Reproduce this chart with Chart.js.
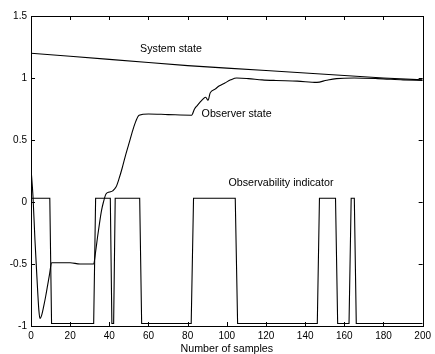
<!DOCTYPE html>
<html>
<head>
<meta charset="utf-8">
<script src="https://cdn.jsdelivr.net/npm/chart.js@4.4.1/dist/chart.umd.min.js"></script>
<style>
html, body { margin: 0; padding: 0; background: #fff; }
</style>
</head>
<body>
<canvas id="chart" width="435" height="354"></canvas>
<script>
// system state (slow decay)
var sysX = [0, 20, 40, 60, 80, 100, 120, 140, 160, 180, 200];
var sysY = [1.20, 1.175, 1.15, 1.125, 1.10, 1.08, 1.06, 1.04, 1.02, 1.00, 0.985];

// observer state
var obsX = [0, 1, 2, 3, 4, 4.6, 5.5, 6.5, 7.5, 8.5, 9.5, 10.5, 15, 20, 25, 32,
            33, 34, 35, 36, 37, 38.3, 40, 41.7, 43.4, 45, 46.5, 48, 50, 52, 53.5, 55.2,
            60, 70, 82, 83.5, 85, 87.2, 89.2, 90.4, 91.5, 94, 96, 99, 102, 105,
            111, 118, 125, 136, 146, 151, 156, 165, 177, 190, 200];
var obsY = [0.27, 0.05, -0.30, -0.60, -0.87, -0.94, -0.91, -0.84, -0.76, -0.67, -0.58, -0.49, -0.49, -0.49, -0.50, -0.50,
            -0.40, -0.28, -0.17, -0.07, 0.0, 0.065, 0.08, 0.09, 0.12, 0.19, 0.27, 0.36, 0.47, 0.58, 0.65, 0.70,
            0.71, 0.705, 0.70, 0.75, 0.78, 0.82, 0.845, 0.82, 0.88, 0.91, 0.935, 0.96, 0.985, 1.0,
            0.995, 0.985, 0.98, 0.975, 0.965, 0.982, 0.995, 1.0, 0.995, 0.985, 0.98];

// observability indicator (on/off)
var indX = [0, 9.6, 10.5, 32, 33, 40.5, 41.3, 42.2, 43, 55.5, 56.5, 81.8, 83, 104.3, 105.5,
            146.2, 147.3, 155.5, 156.6, 162.4, 163.5, 165.1, 166.1, 200];
var indY = [0.03, 0.03, -0.98, -0.98, 0.03, 0.03, -0.98, -0.98, 0.03, 0.03, -0.98, -0.98, 0.03, 0.03, -0.98,
            -0.98, 0.03, 0.03, -0.98, -0.98, 0.03, 0.03, -0.98, -0.98];

var xTicks = [0, 20, 40, 60, 80, 100, 120, 140, 160, 180, 200];
var yTicks = [-1, -0.5, 0, 0.5, 1, 1.5];

var labels = [
    { text: 'System state', x: 55.7, y: 1.234 },
    { text: 'Observer state', x: 87.1, y: 0.71 },
    { text: 'Observability indicator', x: 100.8, y: 0.153 }
];
var xTitle = 'Number of samples';

function pts(xs, ys) { return xs.map((x, i) => ({ x: x, y: ys[i] })); }

var FONT = '"Liberation Sans", Arial, Helvetica, sans-serif';

var boxPlugin = {
    id: 'box',
    afterDraw: function(chart) {
        var c = chart.ctx, a = chart.chartArea;
        var sx = chart.scales.x, sy = chart.scales.y;
        c.save();
        c.strokeStyle = '#000';
        c.lineWidth = 1;
        c.strokeRect(Math.round(a.left) + 0.5, Math.round(a.top) + 0.5,
                     Math.round(a.right - a.left), Math.round(a.bottom - a.top));
        // inward ticks on all sides
        c.beginPath();
        xTicks.forEach(function(v) {
            var px = Math.round(sx.getPixelForValue(v)) + 0.5;
            c.moveTo(px, a.bottom); c.lineTo(px, a.bottom - 4);
            c.moveTo(px, a.top); c.lineTo(px, a.top + 4);
        });
        yTicks.forEach(function(v) {
            var py = Math.round(sy.getPixelForValue(v)) + 0.5;
            c.moveTo(a.left, py); c.lineTo(a.left + 4, py);
            c.moveTo(a.right, py); c.lineTo(a.right - 4, py);
        });
        c.stroke();
        // in-plot labels
        c.fillStyle = '#000';
        c.font = '10.7px ' + FONT;
        c.textBaseline = 'middle';
        c.textAlign = 'left';
        labels.forEach(function(l) {
            c.fillText(l.text, sx.getPixelForValue(l.x), sy.getPixelForValue(l.y));
        });
        c.textAlign = 'center';
        c.fillText(xTitle, (a.left + a.right) / 2, 349);
        c.restore();
    }
};

var ctx = document.getElementById('chart').getContext('2d');
var chart = new Chart(ctx, {
    type: 'line',
    data: {
        datasets: [
            { label: 'System state', data: pts(sysX, sysY), tension: 0 },
            { label: 'Observer state', data: pts(obsX, obsY), cubicInterpolationMode: 'monotone' },
            { label: 'Observability indicator', data: pts(indX, indY), tension: 0 }
        ]
    },
    options: {
        responsive: false,
        animation: false,
        layout: { padding: { top: 16, right: 9, left: 0, bottom: 0 } },
        elements: {
            point: { radius: 0 },
            line: { borderColor: '#000', borderWidth: 1.1, fill: false }
        },
        plugins: { legend: { display: false }, tooltip: { enabled: false } },
        scales: {
            x: {
                type: 'linear', min: 0, max: 200,
                afterFit: function(s) { s.height = 28; },
                afterBuildTicks: function(s) { s.ticks = xTicks.map(v => ({ value: v })); },
                grid: { display: false, drawTicks: false }, border: { display: false },
                ticks: { color: '#000', font: { family: FONT, size: 10 }, padding: 4, maxRotation: 0,
                         callback: v => String(v) }
            },
            y: {
                type: 'linear', min: -1, max: 1.5,
                afterFit: function(s) { s.width = 31; },
                afterBuildTicks: function(s) { s.ticks = yTicks.map(v => ({ value: v })); },
                grid: { display: false, drawTicks: false }, border: { display: false },
                ticks: { color: '#000', font: { family: FONT, size: 10 }, padding: 4,
                         callback: v => String(v) }
            }
        }
    },
    plugins: [boxPlugin]
});
</script>
</body>
</html>
